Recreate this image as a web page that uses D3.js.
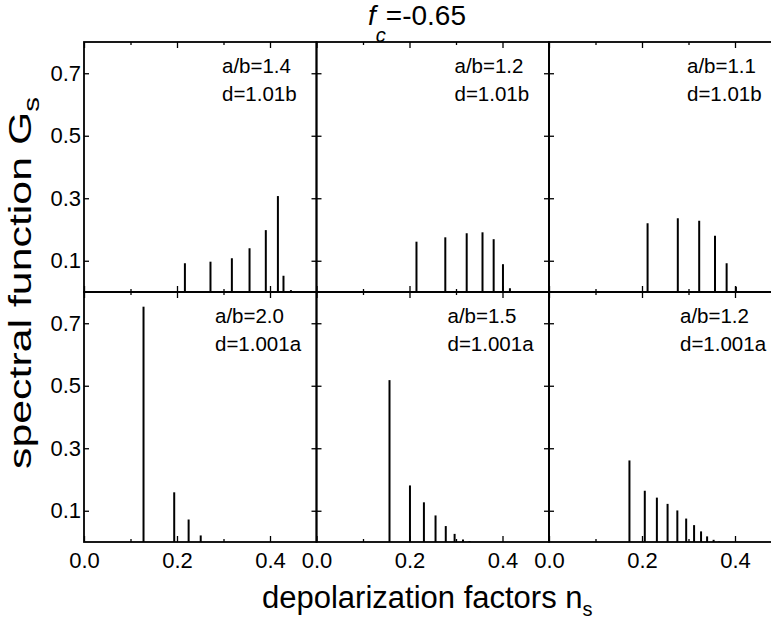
<!DOCTYPE html>
<html>
<head>
<meta charset="utf-8">
<script src="https://cdn.jsdelivr.net/npm/d3@7"></script>
<style>
  body { margin: 0; background: #fff; }
  svg { display: block; font-family: Arial, "Liberation Sans", Helvetica, sans-serif; }
  .tick line { stroke: #000; stroke-width: 1.3; }
</style>
</head>
<body>
<div id="chart"></div>
<script>
// spectral function G_s against depolarization factor n_s, one pair per panel
const nsTop14 = [0.217, 0.272, 0.318, 0.356, 0.391, 0.417, 0.429, 0.445];
const gsTop14 = [0.092, 0.097, 0.108, 0.140, 0.198, 0.307, 0.052, 0.006];
const nsTop12 = [0.215, 0.277, 0.323, 0.357, 0.381, 0.401, 0.416];
const gsTop12 = [0.161, 0.175, 0.188, 0.191, 0.169, 0.089, 0.012];
const nsTop11 = [0.212, 0.277, 0.323, 0.357, 0.382, 0.402];
const gsTop11 = [0.220, 0.236, 0.228, 0.180, 0.092, 0.017];
const nsBot20 = [0.128, 0.194, 0.225, 0.251];
const gsBot20 = [0.753, 0.159, 0.072, 0.021];
const nsBot15 = [0.157, 0.201, 0.231, 0.256, 0.278, 0.297, 0.315, 0.329];
const gsBot15 = [0.518, 0.181, 0.127, 0.085, 0.051, 0.026, 0.008, 0.003];
const nsBot12 = [0.173, 0.206, 0.232, 0.255, 0.276, 0.295, 0.312, 0.327, 0.340, 0.354, 0.366];
const gsBot12 = [0.261, 0.164, 0.142, 0.122, 0.101, 0.075, 0.054, 0.034, 0.018, 0.007, 0.002];

const ratioLabels = ["a/b=1.4", "a/b=1.2", "a/b=1.1", "a/b=2.0", "a/b=1.5", "a/b=1.2"];
const gapLabels = ["d=1.01b", "d=1.01b", "d=1.01b", "d=1.001a", "d=1.001a", "d=1.001a"];

const xMajor = [0, 0.2, 0.4];
const xMinor = [0.1, 0.3];
const yMajor = [0.1, 0.3, 0.5, 0.7];

const panels = [
    { ns: nsTop14, gs: gsTop14 }, { ns: nsTop12, gs: gsTop12 }, { ns: nsTop11, gs: gsTop11 },
    { ns: nsBot20, gs: gsBot20 }, { ns: nsBot15, gs: gsBot15 }, { ns: nsBot12, gs: gsBot12 }
];

const W = 771, H = 619;
const gridLeft = 84, gridTop = 42, colW = 232.5, rowH = 250;

const svg = d3.select("#chart").append("svg")
    .attr("width", W)
    .attr("height", H);

panels.forEach((p, i) => {
    const col = i % 3, row = Math.floor(i / 3);
    const x0 = gridLeft + col * colW, y0 = gridTop + row * rowH;

    const x = d3.scaleLinear().domain([0, 0.5]).range([x0, x0 + colW]);
    const y = d3.scaleLinear().domain([0, 0.8]).range([y0 + rowH, y0]);

    const g = svg.append("g");

    // inward ticks on every side
    const addAxis = (axis, tr) => {
        const a = g.append("g").attr("transform", tr).call(axis);
        a.select(".domain").remove();
        a.selectAll("text")
            .style("font-size", "22px")
            .style("font-family", "Arial, 'Liberation Sans', sans-serif")
            .attr("fill", "#000");
        return a;
    };
    addAxis(d3.axisBottom(x).tickValues(xMajor).tickSize(-6).tickPadding(10)
        .tickFormat(row === 1 ? d3.format(".1f") : ""), `translate(0,${y0 + rowH})`);
    addAxis(d3.axisBottom(x).tickValues(xMinor).tickSize(-3).tickFormat(""), `translate(0,${y0 + rowH})`);
    addAxis(d3.axisTop(x).tickValues(xMajor).tickSize(-6).tickFormat(""), `translate(0,${y0})`);
    addAxis(d3.axisTop(x).tickValues(xMinor).tickSize(-3).tickFormat(""), `translate(0,${y0})`);
    addAxis(d3.axisLeft(y).tickValues(yMajor).tickSize(-5).tickPadding(3)
        .tickFormat(col === 0 ? d3.format(".1f") : ""), `translate(${x0},0)`);
    addAxis(d3.axisRight(y).tickValues(yMajor).tickSize(-5).tickFormat(""), `translate(${x0 + colW},0)`);

    // frame
    g.append("rect")
        .attr("x", x0).attr("y", y0)
        .attr("width", colW).attr("height", rowH)
        .attr("fill", "none")
        .attr("stroke", "#000")
        .attr("stroke-width", 1.8);

    // spectral lines
    g.selectAll("line.bar")
        .data(d3.zip(p.ns, p.gs))
        .join("line")
        .attr("class", "bar")
        .attr("x1", d => x(d[0]))
        .attr("x2", d => x(d[0]))
        .attr("y1", y(0))
        .attr("y2", d => y(d[1]))
        .attr("stroke", "#000")
        .attr("stroke-width", 2);

    const tx = x0 + (row === 0 ? 138 : 131);
    g.append("text").attr("x", tx).attr("y", y0 + 31)
        .attr("font-size", 20.5).text(ratioLabels[i]);
    g.append("text").attr("x", tx).attr("y", y0 + 59)
        .attr("font-size", 20.5).text(gapLabels[i]);
});

// title
const title = svg.append("text").attr("x", 368).attr("y", 25).attr("font-size", 28);
title.append("tspan").attr("font-style", "italic").text("f");
title.append("tspan").attr("font-style", "italic").attr("font-size", 20).attr("dy", 17).text("c");
title.append("tspan").attr("dy", -17).text("=-0.65");

// x axis title
const xt = svg.append("text").attr("x", 262).attr("y", 608).attr("font-size", 31);
xt.append("tspan").text("depolarization factors n");
xt.append("tspan").attr("font-size", 20).attr("dy", 8).text("s");

// y axis title
const yt = svg.append("text")
    .attr("transform", "translate(31,283) rotate(-90)")
    .attr("text-anchor", "middle")
    .attr("font-size", 32)
    .attr("textLength", 372)
    .attr("lengthAdjust", "spacingAndGlyphs");
yt.append("tspan").text("spectral function G");
yt.append("tspan").attr("font-size", 22).attr("dy", 8).text("s");
</script>
</body>
</html>
